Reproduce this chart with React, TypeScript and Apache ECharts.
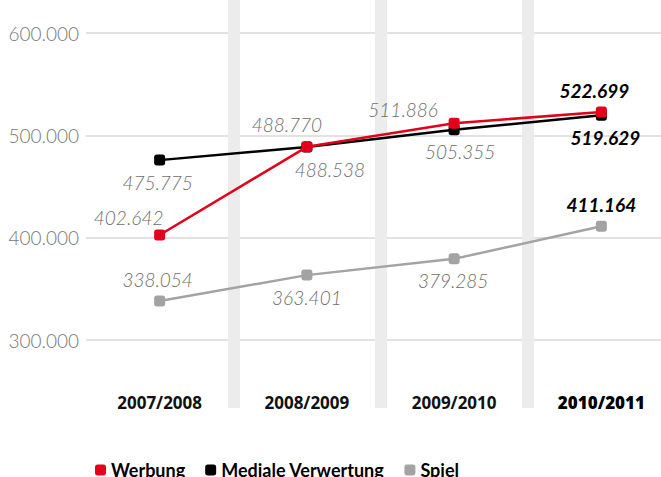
import React, { useEffect, useRef } from 'react';
import * as echarts from 'echarts';

const categories = ['2007/2008', '2008/2009', '2009/2010', '2010/2011'];
const werbung = [402642, 488770, 511886, 522699];
const medialeVerwertung = [475775, 488538, 505355, 519629];
const spiel = [338054, 363401, 379285, 411164];
const seriesNames = ['Werbung', 'Mediale Verwertung', 'Spiel'];

const FONT = '"Open Sans", sans-serif';
const LIGHT = 'Lato, "Open Sans", sans-serif';

const fmt = (v: number) => String(v).replace(/\B(?=(\d{3})+(?!\d))/g, '.');

// label placement (style only)
const werbungLabel: [string, number, number][] = [
  ['top', -31, 2],
  ['top', -20, -3],
  ['top', -51, 5],
  ['top', -7, -3],
];
const medialeLabel: [string, number, number][] = [
  ['bottom', -2, 3],
  ['bottom', 23, 3],
  ['bottom', 6, 3],
  ['bottom', 4, 3],
];
const spielLabel: [string, number, number][] = [
  ['top', -2, -3],
  ['bottom', 0, 3],
  ['bottom', -1, 3],
  ['top', 0, -3],
];

const baseLabel = {
  show: true,
  fontFamily: LIGHT,
  fontSize: 19,
  fontStyle: 'italic' as const,
  fontWeight: 300 as any,
  color: '#6e6e6e',
  distance: 4,
  formatter: (p: any) => fmt(p.value),
};

function buildData(values: number[], placement: [string, number, number][]) {
  return values.map((v, i) => {
    const [position, dx, dy] = placement[i];
    const last = i === values.length - 1;
    return {
      value: v,
      label: {
        position,
        offset: [dx, dy],
        ...(last ? { fontWeight: 'bold', color: '#000' } : {}),
      },
    };
  });
}

export default function App() {
  const ref = useRef<HTMLDivElement>(null);
  useEffect(() => {
    if (!ref.current) return;
    const chart = echarts.init(ref.current, undefined, { renderer: 'svg' });
    const lineSeries = (name: string, color: string, values: number[], placement: any, z: number) => ({
      name,
      type: 'line',
      xAxisIndex: 1,
      yAxisIndex: 1,
      z,
      symbol: 'roundRect',
      symbolSize: 11,
      lineStyle: { width: 2.5, color },
      itemStyle: { color },
      label: baseLabel,
      data: buildData(values, placement),
    });
    chart.setOption({
      animation: false,
      backgroundColor: '#fff',
      grid: [
        { left: 86, right: -14, top: 0, bottom: 69, outerBoundsMode: 'none', containLabel: false },
        { left: 86, right: -14, top: 33, bottom: 137, outerBoundsMode: 'none', containLabel: false },
      ],
      xAxis: [
        {
          type: 'category',
          gridIndex: 0,
          data: categories,
          axisLine: { show: false },
          axisTick: { show: false },
          axisLabel: { show: false },
          splitLine: {
            show: true,
            showMinLine: false,
            showMaxLine: false,
            interval: 0,
            lineStyle: { color: '#ececec', width: 12 },
          },
        },
        {
          type: 'category',
          gridIndex: 1,
          data: categories,
          axisLine: { show: false },
          axisTick: { show: false },
          splitLine: { show: false },
          axisLabel: {
            interval: 0,
            margin: 54,
            fontFamily: FONT,
            fontSize: 17,
            fontWeight: 'bold',
            color: '#111',
            formatter: (v: string, i: number) => (i === categories.length - 1 ? `{b|${v}}` : v),
            rich: { b: { fontFamily: FONT, fontSize: 17, fontWeight: 900, color: '#000' } },
          },
        },
      ],
      yAxis: [
        { type: 'value', gridIndex: 0, show: false, min: 0, max: 1, splitLine: { show: false } },
        {
          type: 'value',
          gridIndex: 1,
          min: 300000,
          max: 600000,
          interval: 100000,
          axisLine: { show: false },
          axisTick: { show: false },
          axisLabel: {
            margin: 7,
            fontFamily: LIGHT,
            fontSize: 19,
            fontWeight: 300,
            color: '#777',
            formatter: (v: number) => fmt(v),
          },
          splitLine: { show: true, lineStyle: { color: '#e2e2e2', width: 2 } },
        },
      ],
      legend: {
        data: seriesNames,
        left: 90,
        top: 456,
        icon: 'roundRect',
        itemWidth: 11,
        itemHeight: 11,
        itemGap: 20,
        textStyle: { fontFamily: 'Lato, sans-serif', fontSize: 18, fontWeight: 'bold', color: '#000' },
      },
      series: [
        lineSeries(seriesNames[2], '#a3a3a3', spiel, spielLabel, 2),
        lineSeries(seriesNames[1], '#000000', medialeVerwertung, medialeLabel, 3),
        lineSeries(seriesNames[0], '#e2001a', werbung, werbungLabel, 4),
      ],
    });
    return () => chart.dispose();
  }, []);
  return (
    <div
      ref={ref}
      style={{ position: 'absolute', left: 0, top: 0, width: 661, height: 477 }}
    />
  );
}
